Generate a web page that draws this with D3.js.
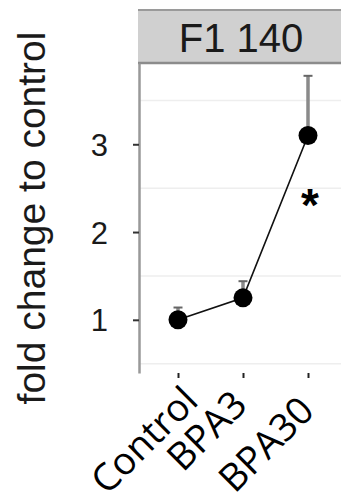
<!DOCTYPE html>
<html>
<head>
<meta charset="utf-8">
<script src="https://cdn.jsdelivr.net/npm/d3@7"></script>
<style>
  body { margin: 0; background: #fff; }
  svg { display: block; }
</style>
</head>
<body>
<div id="chart"></div>
<script>
const groups = ["Control", "BPA3", "BPA30"];
const means = [1.0, 1.25, 3.10];
const upper = [1.14, 1.44, 3.78];
const yTicks = [1, 2, 3];
const yMinor = [0.5, 1.5, 2.5, 3.5];
const stripLabel = "F1 140";
const yTitle = "fold change to control";
const sigMark = "*";

const W = 341, H = 499;
const Panel = {LEFT: 139, RIGHT: 348, TOP: 63, BOTTOM: 373};

// label nudges (hand placed in the source figure)
const labelShift = [[22, 10], [6, 14], [8, 20]];

const svg = d3.select("#chart").append("svg")
  .attr("width", W).attr("height", H);

const x = d3.scalePoint()
  .domain(groups)
  .range([178, 308]);

const y = d3.scaleLinear()
  .domain([0.394, 3.926])
  .range([Panel.BOTTOM, Panel.TOP]);

// strip
svg.append("rect")
  .attr("x", 138).attr("y", 10)
  .attr("width", W - 138).attr("height", Panel.TOP - 10)
  .attr("fill", "#d0d0d0");
svg.append("line")
  .attr("x1", 138).attr("x2", W).attr("y1", 10).attr("y2", 10)
  .attr("stroke", "#9a9a9a").attr("stroke-width", 2);
svg.append("line")
  .attr("x1", 138).attr("x2", W).attr("y1", Panel.TOP).attr("y2", Panel.TOP)
  .attr("stroke", "#8c8c8c").attr("stroke-width", 2.5);
svg.append("text")
  .attr("x", 241).attr("y", 52)
  .attr("text-anchor", "middle")
  .attr("font-family", "Liberation Sans, Arial, sans-serif")
  .attr("font-size", 40)
  .attr("fill", "#1a1a1a")
  .text(stripLabel);

// minor grid
svg.append("g").selectAll("line")
  .data(yMinor)
  .enter().append("line")
    .attr("x1", Panel.LEFT).attr("x2", W)
    .attr("y1", d => y(d)).attr("y2", d => y(d))
    .attr("stroke", "#eeeeee").attr("stroke-width", 1.5);

// y axis
const yAxis = svg.append("g")
  .attr("transform", `translate(${Panel.LEFT},0)`)
  .call(d3.axisLeft(y).tickValues(yTicks).tickSize(6).tickSizeOuter(0).tickPadding(25).tickFormat(d3.format("d")));
yAxis.select(".domain").attr("stroke", "#999").attr("stroke-width", 2.5);
yAxis.selectAll(".tick line").attr("stroke", "#333").attr("stroke-width", 2);
yAxis.selectAll(".tick text")
  .attr("font-family", "Liberation Sans, Arial, sans-serif")
  .attr("font-size", 31)
  .attr("fill", "#1a1a1a")
  .attr("dy", "0.36em");

// x axis ticks
const xAxis = svg.append("g")
  .attr("transform", `translate(0,${Panel.BOTTOM})`)
  .call(d3.axisBottom(x).tickSize(5).tickSizeOuter(0).tickFormat(""));
xAxis.select(".domain").remove();
xAxis.selectAll(".tick line").attr("stroke", "#222").attr("stroke-width", 2);

// x labels
svg.append("g").selectAll("text")
  .data(groups)
  .enter().append("text")
    .attr("transform", (d, i) => `translate(${x(d) + labelShift[i][0]},${Panel.BOTTOM + labelShift[i][1] + 20}) rotate(-45)`)
    .attr("text-anchor", "end")
    .attr("font-family", "Open Sans, sans-serif")
    .attr("font-size", 38)
    .attr("fill", "#000")
    .text(d => d);

// y title
svg.append("text")
  .attr("transform", `translate(45,218) rotate(-90)`)
  .attr("text-anchor", "middle")
  .attr("font-family", "Liberation Sans, Arial, sans-serif")
  .attr("font-size", 39)
  .attr("fill", "#1a1a1a")
  .text(yTitle);

const rows = groups.map((g, i) => ({g, m: means[i], u: upper[i]}));

// error bars
const eb = svg.append("g");
eb.selectAll("line.bar")
  .data(rows)
  .enter().append("line")
    .attr("class", "bar")
    .attr("x1", d => x(d.g)).attr("x2", d => x(d.g))
    .attr("y1", d => y(d.m)).attr("y2", d => y(d.u))
    .attr("stroke", "#8a8a8a").attr("stroke-width", 3.5);
eb.selectAll("line.cap")
  .data(rows)
  .enter().append("line")
    .attr("class", "cap")
    .attr("x1", d => x(d.g) - 4.5).attr("x2", d => x(d.g) + 4.5)
    .attr("y1", d => y(d.u)).attr("y2", d => y(d.u))
    .attr("stroke", "#666").attr("stroke-width", 2);

// line + points
svg.append("path")
  .datum(rows)
  .attr("fill", "none")
  .attr("stroke", "#111")
  .attr("stroke-width", 1.6)
  .attr("d", d3.line().x(d => x(d.g)).y(d => y(d.m)));

svg.append("g").selectAll("circle")
  .data(rows)
  .enter().append("circle")
    .attr("cx", d => x(d.g))
    .attr("cy", d => y(d.m))
    .attr("r", 9.5)
    .attr("fill", "#000");

// significance
svg.append("text")
  .attr("x", x("BPA30") + 2)
  .attr("y", 221)
  .attr("text-anchor", "middle")
  .attr("font-family", "Liberation Sans, Arial, sans-serif")
  .attr("font-weight", "bold")
  .attr("font-size", 46)
  .attr("fill", "#000")
  .text(sigMark);
</script>
</body>
</html>
